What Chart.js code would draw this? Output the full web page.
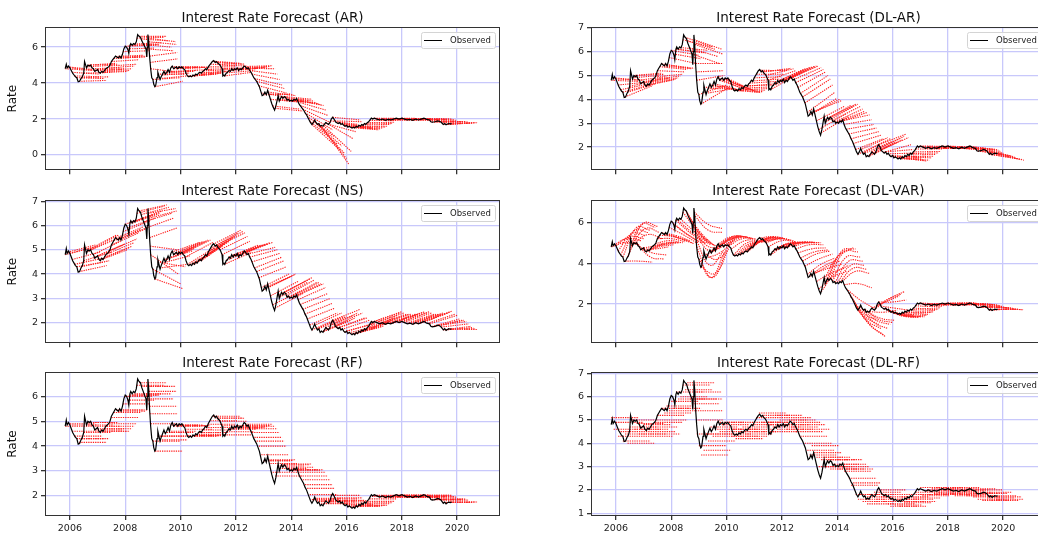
<!DOCTYPE html>
<html><head><meta charset="utf-8">
<script src="https://cdn.jsdelivr.net/npm/chart.js@4/dist/chart.umd.min.js"></script>
<style>
html,body{margin:0;padding:0;background:#fff;width:1038px;height:534px;overflow:hidden;position:relative}
canvas{position:absolute}
</style></head><body>
<canvas id="p0"></canvas><canvas id="p1"></canvas><canvas id="p2"></canvas>
<canvas id="p3"></canvas><canvas id="p4"></canvas><canvas id="p5"></canvas>
<script>
// ---------------- DATA ----------------
const titles = ["Interest Rate Forecast (AR)", "Interest Rate Forecast (DL-AR)", "Interest Rate Forecast (NS)",
                "Interest Rate Forecast (DL-VAR)", "Interest Rate Forecast (RF)", "Interest Rate Forecast (DL-RF)"];
const yLabel = "Rate";
const legendLabel = "Observed";
const xTicks = [2006, 2008, 2010, 2012, 2014, 2016, 2018, 2020];
const yTicksAR = [0, 2, 4, 6];
const yTicksDLAR = [2, 3, 4, 5, 6, 7];
const yTicksNS = [2, 3, 4, 5, 6, 7];
const yTicksDLVAR = [2, 4, 6];
const yTicksRF = [2, 3, 4, 5, 6];
const yTicksDLRF = [1, 2, 3, 4, 5, 6, 7];
const horizonYears = 1.0;

// observed rate [year, value]
const observed = [
[2005.83,4.8],[2005.87,5.05],[2005.9,4.85],[2005.95,4.95],[2006.0,4.85],[2006.05,4.7],[2006.1,4.55],[2006.15,4.45],
[2006.2,4.35],[2006.25,4.3],[2006.3,4.08],[2006.35,4.1],[2006.4,4.25],[2006.45,4.35],[2006.5,4.55],[2006.53,5.2],
[2006.57,5.0],[2006.6,4.85],[2006.65,5.0],[2006.7,4.95],[2006.75,5.0],[2006.8,4.85],[2006.85,4.8],[2006.9,4.65],
[2006.95,4.7],[2007.0,4.75],[2007.05,4.6],[2007.1,4.55],[2007.15,4.65],[2007.2,4.6],[2007.25,4.7],[2007.3,4.8],
[2007.35,4.85],[2007.4,4.9],[2007.45,5.0],[2007.5,5.2],[2007.55,5.3],[2007.6,5.4],[2007.65,5.5],[2007.7,5.45],
[2007.75,5.4],[2007.8,5.5],[2007.85,5.4],[2007.9,5.6],[2007.95,5.9],[2008.0,6.05],[2008.05,6.0],[2008.1,5.85],
[2008.13,5.65],[2008.17,6.1],[2008.2,6.2],[2008.25,6.1],[2008.3,6.2],[2008.35,6.15],[2008.4,6.3],[2008.45,6.7],
[2008.5,6.6],[2008.55,6.55],[2008.6,6.35],[2008.65,6.2],[2008.7,6.05],[2008.75,5.9],[2008.78,5.45],[2008.8,6.0],
[2008.82,6.7],[2008.85,6.3],[2008.88,5.5],[2008.92,4.8],[2008.96,4.3],[2009.0,4.2],[2009.03,3.95],[2009.07,3.8],
[2009.1,3.85],[2009.15,4.3],[2009.18,4.6],[2009.22,4.4],[2009.26,4.2],[2009.3,4.35],[2009.35,4.5],[2009.4,4.65],
[2009.45,4.5],[2009.5,4.6],[2009.55,4.75],[2009.6,4.6],[2009.65,4.85],[2009.7,4.95],[2009.75,4.8],[2009.8,4.85],
[2009.85,4.9],[2009.9,4.8],[2009.95,4.9],[2010.0,4.85],[2010.05,4.9],[2010.1,4.8],[2010.15,4.75],[2010.2,4.55],
[2010.25,4.4],[2010.3,4.35],[2010.35,4.4],[2010.4,4.35],[2010.45,4.45],[2010.5,4.4],[2010.55,4.5],[2010.6,4.45],
[2010.65,4.55],[2010.7,4.6],[2010.75,4.55],[2010.8,4.65],[2010.85,4.7],[2010.9,4.8],[2010.95,4.75],[2011.0,4.9],
[2011.05,5.0],[2011.1,5.1],[2011.15,5.2],[2011.2,5.25],[2011.25,5.15],[2011.3,5.2],[2011.35,5.1],[2011.4,5.05],
[2011.45,4.95],[2011.5,4.8],[2011.53,4.4],[2011.57,4.45],[2011.6,4.4],[2011.65,4.55],[2011.7,4.6],[2011.75,4.7],
[2011.8,4.65],[2011.85,4.8],[2011.9,4.7],[2011.95,4.8],[2012.0,4.75],[2012.05,4.85],[2012.1,4.7],[2012.15,4.8],
[2012.2,4.75],[2012.25,4.85],[2012.3,4.95],[2012.35,4.9],[2012.4,4.8],[2012.45,4.85],[2012.5,4.7],[2012.55,4.6],
[2012.6,4.45],[2012.65,4.3],[2012.7,4.2],[2012.75,4.1],[2012.8,3.95],[2012.85,3.8],[2012.9,3.55],[2012.95,3.3],
[2013.0,3.35],[2013.05,3.5],[2013.1,3.35],[2013.15,3.6],[2013.2,3.35],[2013.25,3.1],[2013.3,2.85],[2013.35,2.65],
[2013.4,2.5],[2013.45,2.75],[2013.5,3.1],[2013.53,3.3],[2013.57,3.0],[2013.6,3.1],[2013.65,3.25],[2013.7,3.15],
[2013.75,3.25],[2013.8,3.2],[2013.85,3.05],[2013.9,3.1],[2013.95,3.0],[2014.0,3.05],[2014.05,3.0],[2014.1,3.1],
[2014.15,3.05],[2014.2,3.15],[2014.25,2.95],[2014.3,2.8],[2014.35,2.7],[2014.4,2.6],[2014.45,2.5],[2014.5,2.35],
[2014.55,2.25],[2014.6,2.1],[2014.65,1.95],[2014.7,1.8],[2014.75,1.7],[2014.8,1.8],[2014.85,1.95],[2014.9,1.8],
[2014.95,1.7],[2015.0,1.75],[2015.05,1.6],[2015.1,1.65],[2015.15,1.6],[2015.2,1.7],[2015.25,1.8],[2015.3,1.75],
[2015.35,1.7],[2015.4,1.8],[2015.45,2.0],[2015.5,2.1],[2015.55,2.0],[2015.6,1.85],[2015.65,1.8],[2015.7,1.75],
[2015.75,1.8],[2015.8,1.7],[2015.85,1.75],[2015.9,1.65],[2015.95,1.6],[2016.0,1.65],[2016.05,1.55],[2016.1,1.6],
[2016.15,1.55],[2016.2,1.5],[2016.25,1.55],[2016.3,1.5],[2016.35,1.6],[2016.4,1.55],[2016.45,1.65],[2016.5,1.6],
[2016.55,1.7],[2016.6,1.65],[2016.65,1.75],[2016.7,1.7],[2016.75,1.8],[2016.8,1.85],[2016.85,1.95],[2016.9,2.05],
[2016.95,2.0],[2017.0,2.05],[2017.1,2.0],[2017.2,1.95],[2017.3,2.0],[2017.4,1.93],[2017.5,1.98],[2017.6,1.95],
[2017.7,2.0],[2017.8,2.05],[2017.9,2.0],[2018.0,2.05],[2018.1,2.0],[2018.2,1.95],[2018.3,1.98],[2018.4,1.93],
[2018.5,2.0],[2018.6,1.95],[2018.7,2.0],[2018.8,2.05],[2018.9,1.98],[2019.0,1.95],[2019.05,1.85],[2019.1,1.83],
[2019.2,1.85],[2019.3,1.9],[2019.4,1.85],[2019.45,1.78],[2019.5,1.7],[2019.55,1.75],[2019.6,1.68],[2019.65,1.72],
[2019.7,1.75],[2019.75,1.73],[2019.8,1.75]];

// forecast origins (about monthly, year) and observed rate at origin
const fcX = [2005.83,2005.92,
2006.0,2006.08,2006.17,2006.25,2006.33,2006.42,2006.5,2006.58,2006.67,2006.75,2006.83,2006.92,
2007.0,2007.08,2007.17,2007.25,2007.33,2007.42,2007.5,2007.58,2007.67,2007.75,2007.83,2007.92,
2008.0,2008.08,2008.17,2008.25,2008.33,2008.42,2008.5,2008.58,2008.67,2008.75,2008.83,2008.86,2008.88,2008.9,2008.92,
2009.0,2009.08,2009.17,2009.25,2009.33,2009.42,2009.5,2009.58,2009.67,2009.75,2009.83,2009.92,
2010.0,2010.08,2010.17,2010.25,2010.33,2010.42,2010.5,2010.58,2010.67,2010.75,2010.83,2010.92,
2011.0,2011.08,2011.17,2011.25,2011.33,2011.42,2011.5,2011.58,2011.67,2011.75,2011.83,2011.92,
2012.0,2012.08,2012.17,2012.25,2012.33,2012.42,2012.5,2012.58,2012.67,2012.75,2012.83,2012.92,
2013.0,2013.08,2013.17,2013.25,2013.33,2013.42,2013.5,2013.58,2013.67,2013.75,2013.83,2013.92,
2014.0,2014.08,2014.17,2014.25,2014.33,2014.42,2014.5,2014.58,2014.67,2014.75,2014.83,2014.92,
2015.0,2015.08,2015.17,2015.25,2015.33,2015.42,2015.5,2015.58,2015.67,2015.75,2015.83,2015.92,
2016.0,2016.08,2016.17,2016.25,2016.33,2016.42,2016.5,2016.58,2016.67,2016.75,2016.83,2016.92,
2017.0,2017.08,2017.17,2017.25,2017.33,2017.42,2017.5,2017.58,2017.67,2017.75,2017.83,2017.92,
2018.0,2018.08,2018.17,2018.25,2018.33,2018.42,2018.5,2018.58,2018.67,2018.75,2018.83,2018.92,
2019.0,2019.08,2019.17,2019.25,2019.33,2019.42,2019.5,2019.58,2019.67,2019.75];
const fcY0 = [4.8,4.9,
4.85,4.6,4.4,4.3,4.1,4.3,4.55,4.9,5.0,5.0,4.8,4.7,
4.75,4.57,4.63,4.7,4.83,4.95,5.2,5.37,5.48,5.4,5.45,5.75,
6.05,5.9,6.1,6.1,6.17,6.5,6.6,6.45,6.15,5.9,6.5,6.3,5.5,5.15,4.8,
4.2,3.8,4.5,4.25,4.45,4.6,4.6,4.65,4.9,4.8,4.88,4.85,
4.85,4.85,4.7,4.4,4.38,4.4,4.4,4.47,4.57,4.55,4.68,4.77,
4.9,5.05,5.22,5.15,5.15,5.0,4.8,4.4,4.57,4.7,4.75,4.75,
4.75,4.77,4.78,4.85,4.92,4.82,4.7,4.5,4.25,4.1,3.85,3.45,
3.35,3.4,3.5,3.1,2.73,2.6,3.1,3.05,3.2,3.25,3.12,3.05,
3.05,3.05,3.1,2.95,2.75,2.55,2.35,2.15,1.9,1.7,1.88,1.75,
1.75,1.63,1.63,1.8,1.72,1.9,2.1,1.9,1.78,1.8,1.72,1.62,
1.65,1.58,1.53,1.55,1.55,1.6,1.6,1.67,1.73,1.8,1.92,2.02,
2.05,2.01,1.97,1.97,1.98,1.94,1.98,1.96,1.98,2.03,2.03,2.0,
2.05,2.01,1.97,1.96,1.96,1.95,2.0,1.96,1.98,2.03,2.03,1.97,
1.95,1.84,1.84,1.87,1.88,1.82,1.7,1.7,1.73,1.73];

// forecast value one horizon ahead, per model
const arEnd = [4.7,4.75,
4.7,4.5,4.35,4.25,4.15,4.35,4.6,5.0,5.1,5.05,4.85,4.75,
4.8,4.65,4.7,4.8,4.95,5.05,5.3,5.45,5.55,5.45,5.5,5.8,
6.1,5.95,6.15,6.15,6.25,6.55,6.6,6.35,6.0,5.8,6.3,6.15,5.7,5.35,4.6,
4.3,4.1,4.5,4.4,4.55,4.65,4.65,4.7,4.9,4.85,4.9,4.88,
4.88,4.88,4.75,4.55,4.5,4.55,4.55,4.6,4.65,4.65,4.75,4.8,
4.9,5.0,5.1,5.05,5.05,4.95,4.85,4.6,4.7,4.8,4.82,4.85,
4.85,4.88,4.9,4.93,4.97,4.8,4.5,4.2,3.9,3.7,3.45,3.2,
3.4,3.35,3.3,2.95,2.55,2.45,3.0,2.95,3.05,3.1,3.0,2.9,
2.85,2.8,2.75,2.5,2.2,1.8,1.4,1.0,0.6,0.3,0.5,0.1,
-0.2,-0.5,0.2,0.9,1.3,1.7,1.95,1.85,1.6,1.55,1.5,1.45,
1.5,1.45,1.4,1.45,1.5,1.55,1.6,1.7,1.75,1.82,1.92,2.0,
2.03,2.0,1.97,1.97,1.98,1.95,1.98,1.96,1.98,2.02,2.02,2.0,
2.02,2.0,1.97,1.96,1.96,1.95,1.98,1.96,1.97,2.0,2.0,1.96,
1.93,1.85,1.84,1.86,1.86,1.83,1.78,1.78,1.8,1.8];
const nsEnd = [5.1,5.2,
5.15,4.9,4.65,4.5,4.35,4.55,4.9,5.4,5.6,5.6,5.35,5.2,
5.25,5.0,5.1,5.15,5.3,5.45,5.7,5.85,5.95,5.9,5.9,6.2,
6.45,6.3,6.5,6.5,6.6,6.8,6.85,6.75,6.5,6.3,6.7,6.6,5.9,5.0,4.0,
3.6,3.4,4.3,4.4,4.75,4.95,5.05,5.15,5.3,5.3,5.35,5.35,
5.4,5.4,5.3,5.1,5.05,5.1,5.15,5.25,5.35,5.35,5.45,5.5,
5.6,5.7,5.8,5.75,5.7,5.55,5.35,4.9,5.05,5.15,5.2,5.2,
5.2,5.25,5.25,5.3,5.3,5.1,5.0,4.85,4.7,4.55,4.3,4.0,
3.9,3.95,4.0,3.7,3.3,3.2,3.7,3.65,3.8,3.85,3.75,3.65,
3.65,3.6,3.6,3.45,3.2,3.0,2.8,2.6,2.4,2.2,2.4,2.25,
2.25,2.1,2.1,2.3,2.2,2.4,2.55,2.4,2.2,2.2,2.1,1.95,
1.95,1.85,1.8,1.85,1.85,1.95,2.0,2.05,2.1,2.2,2.3,2.4,
2.45,2.4,2.35,2.35,2.35,2.3,2.35,2.35,2.38,2.42,2.45,2.4,
2.45,2.4,2.35,2.35,2.35,2.35,2.4,2.38,2.4,2.45,2.48,2.35,
2.3,2.15,2.1,2.1,2.05,1.95,1.85,1.8,1.75,1.72];
const rfLevel = [4.8,4.9,
4.85,4.6,4.4,4.3,4.15,4.3,4.55,4.85,4.95,4.95,4.8,4.65,
4.7,4.6,4.6,4.7,4.8,4.9,5.15,5.35,5.45,5.4,5.45,5.7,
6.0,5.85,6.05,6.05,6.1,6.45,6.55,6.4,6.1,5.9,6.4,6.2,5.6,5.3,4.9,
4.2,3.8,4.4,4.25,4.4,4.55,4.55,4.6,4.85,4.8,4.85,4.82,
4.82,4.82,4.68,4.42,4.4,4.42,4.42,4.47,4.55,4.55,4.65,4.75,
4.88,5.02,5.2,5.13,5.12,5.0,4.82,4.45,4.58,4.68,4.72,4.74,
4.74,4.76,4.78,4.83,4.88,4.8,4.7,4.55,4.35,4.2,4.0,3.65,
3.4,3.42,3.45,3.3,2.95,2.8,3.2,3.1,3.25,3.28,3.15,3.05,
3.05,3.03,3.05,2.95,2.8,2.65,2.45,2.3,2.05,1.85,1.9,1.8,
1.78,1.7,1.68,1.8,1.75,1.88,2.02,1.92,1.82,1.8,1.75,1.68,
1.65,1.6,1.58,1.58,1.6,1.62,1.62,1.68,1.72,1.78,1.88,1.98,
2.02,2.0,1.97,1.97,1.98,1.95,1.97,1.96,1.98,2.02,2.02,2.0,
2.03,2.0,1.97,1.96,1.96,1.95,1.99,1.96,1.98,2.02,2.02,1.97,
1.95,1.86,1.85,1.87,1.87,1.83,1.74,1.73,1.75,1.75];
const dlarEnd = [4.75,4.8,
4.8,4.72,4.65,4.62,4.58,4.65,4.8,5.0,5.1,5.05,4.95,4.88,
4.9,4.82,4.85,4.9,4.98,5.05,5.15,5.25,5.3,5.28,5.3,5.5,
5.85,5.7,5.95,5.95,6.05,6.2,6.2,6.1,5.8,5.5,6.1,5.9,5.5,5.2,5.0,
4.6,4.5,4.55,4.45,4.45,4.4,4.35,4.35,4.4,4.4,4.42,4.4,
4.35,4.3,4.3,4.28,4.32,4.38,4.45,4.52,4.6,4.65,4.75,4.85,
4.95,5.05,5.2,5.25,5.3,5.28,5.2,5.05,5.15,5.22,5.28,5.3,
5.33,5.36,5.38,5.4,5.4,5.33,5.25,5.15,5.0,4.85,4.6,4.3,
4.05,4.0,3.95,3.7,3.4,3.3,3.75,3.7,3.8,3.8,3.7,3.6,
3.5,3.45,3.35,3.15,2.95,2.8,2.65,2.5,2.35,2.25,2.4,2.35,
2.25,2.2,2.2,2.35,2.3,2.45,2.55,2.4,2.1,1.9,1.75,1.6,
1.55,1.5,1.45,1.42,1.45,1.55,1.62,1.7,1.76,1.82,1.92,2.0,
2.03,2.02,1.98,1.96,1.96,1.94,1.95,1.95,1.97,2.0,2.0,1.98,
1.97,1.95,1.92,1.9,1.9,1.92,1.93,1.9,1.9,1.9,1.88,1.82,
1.75,1.68,1.65,1.64,1.62,1.58,1.52,1.5,1.48,1.45];
const dlvarMid = [5.0,5.2,
5.3,5.45,5.6,5.75,4.1,5.9,5.95,5.7,5.4,4.3,4.5,4.7,
4.85,4.8,4.9,4.95,5.0,5.1,5.2,5.3,5.35,5.25,5.2,5.4,
5.5,5.4,5.5,5.5,5.55,5.6,5.6,5.4,5.2,4.9,5.9,5.6,4.6,3.9,3.3,
3.3,3.5,4.2,4.5,4.8,5.0,5.1,5.2,5.3,5.3,5.3,5.28,
5.25,5.2,5.1,5.0,4.95,4.95,4.98,5.0,5.05,5.08,5.12,5.18,
5.22,5.25,5.3,5.28,5.25,5.2,5.1,4.8,4.92,4.98,5.0,5.0,
5.0,5.0,5.0,5.02,5.03,5.0,4.9,4.7,4.55,4.45,4.2,3.95,
3.85,3.8,3.75,3.5,3.3,3.5,4.3,4.4,4.6,4.55,4.3,4.1,
3.9,3.75,3.6,3.0,2.2,1.6,1.4,1.2,1.0,0.9,1.1,1.2,
1.25,1.3,1.6,2.1,2.2,2.3,2.1,1.8,1.55,1.5,1.45,1.4,
1.42,1.4,1.38,1.42,1.48,1.55,1.58,1.65,1.72,1.78,1.88,1.98,
2.02,2.01,1.98,1.97,1.98,1.95,1.98,1.97,1.99,2.03,2.04,2.02,
2.05,2.02,1.99,1.98,1.98,1.97,2.0,1.97,1.99,2.01,2.01,1.96,
1.93,1.86,1.85,1.86,1.86,1.82,1.75,1.74,1.75,1.75];
const dlvarEnd = [4.9,5.1,
5.2,5.35,5.5,5.6,4.05,5.75,5.8,5.5,5.2,4.2,4.4,4.8,
4.95,4.9,5.0,5.0,5.0,5.0,5.05,5.1,5.1,5.0,4.95,5.0,
5.05,5.0,5.0,4.95,4.95,4.9,4.9,4.85,4.8,4.7,5.7,5.5,4.9,4.6,4.5,
4.6,4.7,5.0,5.1,5.2,5.3,5.3,5.3,5.3,5.28,5.25,5.22,
5.2,5.18,5.12,5.08,5.05,5.05,5.08,5.1,5.12,5.15,5.17,5.18,
5.18,5.18,5.18,5.15,5.12,5.1,5.05,4.9,4.98,5.0,5.0,5.0,
5.0,5.0,5.0,5.0,5.0,5.0,4.9,4.75,4.65,4.6,4.45,4.25,
4.15,4.1,3.95,3.75,3.6,3.9,4.7,4.75,4.7,4.55,4.3,4.1,
3.9,3.7,3.5,2.8,1.8,1.2,1.0,0.8,0.5,0.4,0.8,1.0,
1.1,1.2,1.7,2.4,2.5,2.6,2.2,1.7,1.5,1.45,1.4,1.35,
1.4,1.4,1.38,1.45,1.5,1.6,1.62,1.7,1.75,1.82,1.9,1.98,
2.03,2.02,2.0,1.98,1.98,1.96,1.98,1.98,2.0,2.04,2.05,2.03,
2.06,2.04,2.01,2.0,1.99,1.98,1.99,1.96,1.96,1.96,1.95,1.92,
1.88,1.83,1.82,1.81,1.8,1.78,1.74,1.74,1.73,1.72];
const dlrfLevel = [5.1,4.6,
4.9,4.3,4.5,4.1,4.4,4.0,4.7,5.0,4.6,4.85,4.4,4.6,
4.8,4.3,4.5,4.7,4.4,4.9,5.2,5.0,5.5,5.3,5.6,5.4,
5.8,5.5,6.2,5.9,6.0,6.5,6.3,6.6,5.9,5.7,6.2,5.9,5.4,5.0,4.4,
3.9,3.5,3.7,4.4,4.1,4.7,4.3,4.6,4.9,4.5,4.8,4.4,
4.9,4.6,4.3,4.6,4.2,4.5,4.3,4.7,4.4,4.6,4.5,4.8,
4.9,5.1,5.3,4.9,5.2,4.8,4.9,4.5,4.7,5.2,4.6,5.0,
4.8,5.1,4.6,5.0,4.7,4.9,4.5,4.8,4.3,4.6,4.0,3.7,
3.5,3.9,3.6,3.4,3.0,3.3,3.4,3.0,3.3,2.9,3.1,3.3,
2.9,3.1,3.0,2.8,2.9,2.5,2.2,2.3,1.8,1.6,1.8,1.5,
1.7,1.4,1.8,1.5,1.9,1.6,2.0,1.7,1.5,1.8,1.4,1.3,
1.6,1.35,1.5,1.3,1.7,1.45,1.6,1.5,1.8,1.65,1.9,1.8,
2.1,1.75,1.95,2.0,1.8,2.05,1.85,2.1,1.9,2.0,1.8,2.05,
1.95,1.85,2.1,1.75,1.95,1.8,2.0,1.9,1.75,2.05,1.85,1.7,
2.0,1.6,1.85,1.55,1.9,1.65,1.75,1.55,1.7,1.6];

// ---------------- LAYOUT ----------------
const X_MIN = 2005.1, X_MAX = 2021.55;
const panels = [
  {cv:'p0', left:0,   top:0,   yMin:-0.85, yMax:7.12, ticks:yTicksAR,   rate:true,  bottom:false, kind:'line',  vals:arEnd},
  {cv:'p1', left:546, top:0,   yMin:1.03,  yMax:7.03, ticks:yTicksDLAR, rate:false, bottom:false, kind:'line',  vals:dlarEnd},
  {cv:'p2', left:0,   top:173, yMin:1.15,  yMax:7.05, ticks:yTicksNS,   rate:true,  bottom:false, kind:'line',  vals:nsEnd},
  {cv:'p3', left:546, top:173, yMin:0.08,  yMax:7.09, ticks:yTicksDLVAR,rate:false, bottom:false, kind:'curve', vals:dlvarEnd, mid:dlvarMid},
  {cv:'p4', left:0,   top:345, yMin:1.19,  yMax:6.98, ticks:yTicksRF,   rate:true,  bottom:true,  kind:'flat',  vals:rfLevel},
  {cv:'p5', left:546, top:345, yMin:0.88,  yMax:7.06, ticks:yTicksDLRF, rate:false, bottom:true,  kind:'flat',  vals:dlrfLevel}
];

Chart.defaults.font.family = "'DejaVu Sans', sans-serif";
Chart.defaults.color = '#222';

const FC_COLOR = '#ff1f1f';
const GRID = '#c8c8fb';

const decorPlugin = {
  id: 'decor',
  afterDraw(chart, args, opts) {
    const ctx = chart.ctx, a = chart.chartArea;
    ctx.save();
    ctx.strokeStyle = '#333'; ctx.lineWidth = 1;
    ctx.strokeRect(Math.round(a.left) + 0.5, Math.round(a.top) + 0.5,
                   Math.round(a.right - a.left) - 1, Math.round(a.bottom - a.top) - 1);
    ctx.fillStyle = '#111';
    ctx.font = "13.5px 'DejaVu Sans'";
    ctx.textAlign = 'center'; ctx.textBaseline = 'middle';
    ctx.fillText(opts.title, (a.left + a.right) / 2, a.top - 9);
    const w = 74, h = 16, bx = a.right - 5 - w, by = a.top + 5;
    ctx.fillStyle = 'rgba(255,255,255,0.85)';
    ctx.strokeStyle = '#d4d4d4';
    ctx.beginPath();
    ctx.roundRect(bx + 0.5, by + 0.5, w, h, 2);
    ctx.fill(); ctx.stroke();
    ctx.strokeStyle = '#000'; ctx.lineWidth = 1;
    ctx.beginPath(); ctx.moveTo(bx + 3, by + 8.5); ctx.lineTo(bx + 21, by + 8.5); ctx.stroke();
    ctx.fillStyle = '#222';
    ctx.font = "8.5px 'DejaVu Sans'";
    ctx.textAlign = 'left'; ctx.textBaseline = 'middle';
    ctx.fillText(legendLabel, bx + 29, by + 8.5);
    ctx.restore();
  }
};

panels.forEach((p, k) => {
  const cv = document.getElementById(p.cv);
  const W = 520, H = p.bottom ? 193 : 179;
  cv.width = W; cv.height = H;
  cv.style.left = p.left + 'px'; cv.style.top = p.top + 'px';
  cv.style.width = W + 'px'; cv.style.height = H + 'px';

  const datasets = [{
    data: observed.map(o => ({x: o[0], y: o[1]})),
    borderColor: '#000', borderWidth: 1.2, pointRadius: 0, tension: 0, fill: false
  }];
  fcX.forEach((x0, i) => {
    let pts;
    if (p.kind === 'flat') {
      pts = [{x: x0, y: p.vals[i]}, {x: x0 + horizonYears, y: p.vals[i]}];
    } else if (p.kind === 'curve') {
      pts = [{x: x0, y: fcY0[i]}, {x: x0 + horizonYears / 2, y: p.mid[i]}, {x: x0 + horizonYears, y: p.vals[i]}];
    } else {
      pts = [{x: x0, y: fcY0[i]}, {x: x0 + horizonYears, y: p.vals[i]}];
    }
    datasets.push({
      data: pts, borderColor: FC_COLOR, borderWidth: 1.1, borderDash: [1.3, 1],
      pointRadius: 0, tension: p.kind === 'curve' ? 0.45 : 0, fill: false
    });
  });

  new Chart(cv, {
    type: 'line',
    data: {datasets},
    options: {
      responsive: false, animation: false, devicePixelRatio: 1,
      parsing: false, normalized: true,
      layout: {padding: {top: 27, right: 20, left: 0, bottom: 0}},
      plugins: {legend: {display: false}, tooltip: {enabled: false}, decor: {title: titles[k]}},
      scales: {
        x: {
          type: 'linear', min: X_MIN, max: X_MAX,
          afterBuildTicks: s => { s.ticks = xTicks.map(v => ({value: v})); },
          afterFit: s => { s.height = p.bottom ? 22 : 8; },
          grid: {color: GRID, lineWidth: 1.3, tickColor: '#333', tickLength: 4, drawTicks: true},
          border: {display: false},
          ticks: {font: {size: 9.5}, color: '#222', padding: 3, maxRotation: 0,
                  callback: v => p.bottom ? String(v) : ''}
        },
        y: {
          type: 'linear', min: p.yMin, max: p.yMax,
          afterBuildTicks: s => { s.ticks = p.ticks.map(v => ({value: v})); },
          afterFit: s => { s.width = 45; },
          grid: {color: GRID, lineWidth: 1.3, tickColor: '#333', tickLength: 4, drawTicks: true},
          border: {display: false},
          ticks: {font: {size: 9.5}, color: '#222', padding: 3, callback: v => String(v)},
          title: {display: p.rate, text: yLabel, font: {size: 12}, color: '#111', padding: {top: 6, bottom: 0}}
        }
      }
    },
    plugins: [decorPlugin]
  });
});
</script>
</body></html>
